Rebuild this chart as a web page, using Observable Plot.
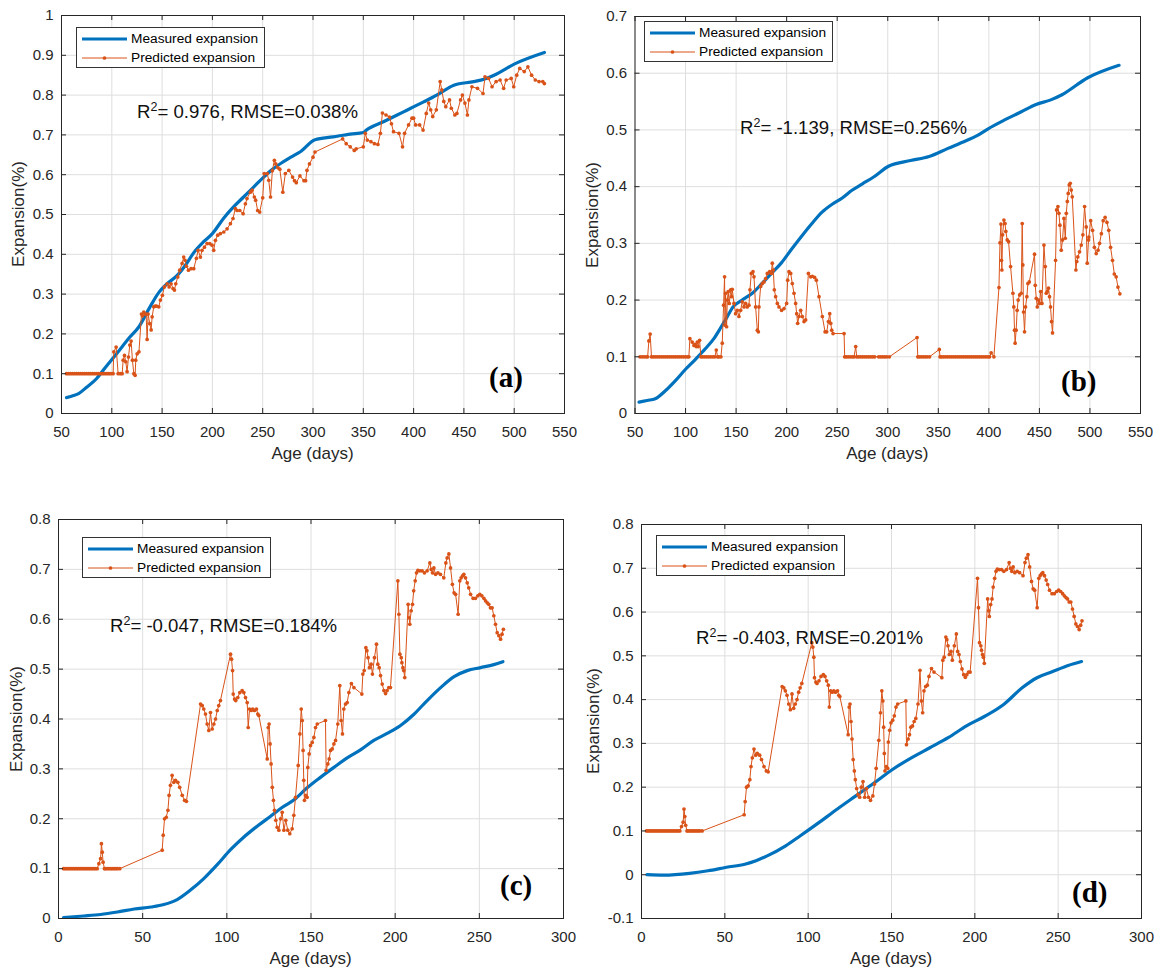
<!DOCTYPE html>
<html><head><meta charset="utf-8">
<script src="https://cdn.jsdelivr.net/npm/d3@7"></script>
<script src="https://cdn.jsdelivr.net/npm/@observablehq/plot@0.6"></script>
<style>
body{margin:0;background:#fff;}
#root{position:relative;width:1156px;height:969px;overflow:hidden;font-family:"Liberation Sans",Arial,Helvetica,sans-serif;color:#262626;}
.panel{position:absolute;}
.ov{position:absolute;white-space:nowrap;line-height:1;}
.legend{position:absolute;border:1px solid #333;background:#fff;box-sizing:border-box;font-size:13.7px;color:#000;}
.legend span{position:absolute;white-space:nowrap;line-height:18px;}
.ann{position:absolute;white-space:nowrap;font-size:18.6px;line-height:22px;color:#111;}
.ann .sup{position:relative;top:-7px;font-size:12.5px;}
.plab{position:absolute;font-family:"Liberation Serif","Times New Roman",serif;font-weight:bold;font-size:29px;line-height:32px;color:#000;}
</style></head><body><div id="root"></div>
<script>
// ---------------- data ----------------
const xTicksAB = [50,100,150,200,250,300,350,400,450,500,550];
const xTicksCD = [0,50,100,150,200,250,300];
const yTicksA = [0,0.1,0.2,0.3,0.4,0.5,0.6,0.7,0.8,0.9,1];
const yTicksB = [0,0.1,0.2,0.3,0.4,0.5,0.6,0.7];
const yTicksC = [0,0.1,0.2,0.3,0.4,0.5,0.6,0.7,0.8];
const yTicksD = [-0.1,0,0.1,0.2,0.3,0.4,0.5,0.6,0.7,0.8];

const seriesNames = ["Measured expansion","Predicted expansion"];
const xTitle = "Age (days)";
const yTitle = "Expansion(%)";
const panelTags = ["(a)","(b)","(c)","(d)"];
const stats = [["0.976","0.038"],["-1.139","0.256"],["-0.047","0.184"],["-0.403","0.201"]];

const measuredA = [[55,0.040],[62,0.045],[67,0.050],[75,0.066],[85,0.088],[94,0.117],[105,0.151],[118,0.192],[127,0.218],[138,0.268],[147,0.305],[155,0.326],[165,0.347],[173,0.372],[182,0.406],[191,0.431],[200,0.452],[211,0.49],[221,0.519],[231,0.544],[241,0.569],[251,0.594],[260,0.614],[269,0.63],[278,0.644],[287,0.657],[302,0.688],[320,0.695],[337,0.702],[350,0.706],[353,0.712],[370,0.733],[390,0.758],[410,0.783],[423,0.8],[440,0.825],[460,0.834],[470,0.84],[480,0.85],[501,0.879],[530,0.907]];

const predictedA = [[55,0.1],[57,0.1],[59,0.1],[61,0.1],[63,0.1],[65,0.1],[67,0.1],[69,0.1],[71,0.1],[73,0.1],[75,0.1],[77,0.1],[79,0.1],[81,0.1],[83,0.1],[85,0.1],[87,0.1],[89,0.1],[91,0.1],[93,0.1],[95,0.1],[97,0.1],[99,0.1],[101.3,0.1],
[102,0.155],[104.3,0.167],[106.3,0.1],[108.6,0.1],[110.3,0.1],[111.3,0.134],[112.6,0.146],[113.9,0.13],[115.2,0.105],[116.6,0.142],[117.9,0.172],[119.2,0.182],[120.5,0.134],[121.9,0.1],[123.2,0.096],[123.8,0.134],[125.2,0.15],[127,0.155],[129.5,0.25],[130.5,0.245],[131.8,0.255],[133,0.25],[134.1,0.25],[135.1,0.186],[136.1,0.25],[137.7,0.226],[139.1,0.21],[140.1,0.243],[141.7,0.268],[143,0.27],[144.4,0.27],[146.7,0.268],[148.3,0.285],[150.3,0.297],[152.3,0.318],[155,0.326],[157,0.318],[158.9,0.326],[160.9,0.314],[162.3,0.31],[163.6,0.326],[165.6,0.343],[167.5,0.36],[169.9,0.377],[171.5,0.393],[172.8,0.385],[174.2,0.37],[176.2,0.36],[178.8,0.364],[181.5,0.364],[184.1,0.39],[185.8,0.41],[188.1,0.393],[189.7,0.41],[192.1,0.418],[194.7,0.427],[197.4,0.427],[199.7,0.423],[201.3,0.41],[203,0.435],[205.3,0.448],[207.9,0.452],[211.3,0.456],[214.6,0.464],[217.9,0.477],[220.5,0.49],[222.8,0.515],[224.5,0.51],[227.2,0.51],[230.5,0.502],[232.8,0.527],[234.4,0.54],[237.7,0.556],[239.5,0.561],[241.7,0.544],[243,0.536],[245,0.51],[247,0.506],[250,0.542],[251.5,0.603],[254.5,0.603],[256,0.586],[257.8,0.544],[259.6,0.61],[261.6,0.636],[263,0.627],[265,0.618],[267,0.614],[270,0.556],[272.5,0.603],[276,0.611],[279.7,0.594],[281.6,0.585],[283.4,0.58],[287,0.597],[291,0.585],[292.7,0.585],[294,0.611],[296.5,0.627],[300,0.644],[302,0.657],
[329.5,0.69],[333,0.678],[337,0.67],[341,0.661],[343,0.665],[350,0.67],[352,0.704],[354,0.687],[357.6,0.683],[361,0.678],[364.5,0.676],[367,0.704],[369,0.755],[372.6,0.75],[376,0.745],[378,0.728],[380,0.708],[385.5,0.704],[389,0.67],[391,0.704],[395,0.725],[398.4,0.742],[400,0.742],[402,0.725],[406,0.725],[409.4,0.712],[412.6,0.754],[415,0.78],[417,0.763],[419,0.746],[422.6,0.763],[426.4,0.834],[428,0.813],[430,0.784],[432,0.771],[435.7,0.788],[437.5,0.767],[441,0.75],[443,0.754],[446.7,0.788],[448.5,0.8],[451,0.78],[453.5,0.75],[455,0.788],[458,0.821],[463.5,0.817],[469,0.804],[471,0.846],[474.5,0.842],[478,0.821],[482,0.834],[486,0.838],[489.5,0.817],[492,0.838],[497,0.842],[499.5,0.821],[502.5,0.85],[505.5,0.867],[510,0.859],[513.6,0.871],[517.3,0.85],[521,0.838],[524.7,0.834],[528.4,0.834],[530,0.829]];

const measuredB = [[54,0.02],[62,0.023],[70,0.026],[80,0.04],[90,0.058],[100,0.078],[110,0.096],[120,0.115],[128,0.132],[135,0.152],[141,0.17],[147,0.188],[156,0.2],[166,0.212],[175,0.228],[185,0.247],[195,0.266],[205,0.29],[215,0.313],[225,0.335],[235,0.355],[245,0.369],[255,0.38],[265,0.394],[275,0.405],[286,0.417],[300.7,0.436],[322.6,0.446],[340.9,0.453],[359,0.467],[377.4,0.481],[388.3,0.49],[399.3,0.502],[413.9,0.516],[432.1,0.532],[446.7,0.545],[461.3,0.553],[472.3,0.562],[497.8,0.592],[528.8,0.614]];

const predictedB = [[55,0.1],[57,0.1],[59,0.1],[61,0.1],[62.5,0.1],[63.7,0.128],[65,0.14],[66.3,0.1],[68,0.1],[70,0.1],[72,0.1],[74,0.1],[76,0.1],[78,0.1],[80,0.1],[82,0.1],[84,0.1],[86,0.1],[88,0.1],[90,0.1],[92,0.1],[94,0.1],[96,0.1],[98,0.1],[100,0.1],[102,0.1],[103.3,0.1],
[104.3,0.132],[106.6,0.126],[108.3,0.12],[109.3,0.122],[110.6,0.118],[111.6,0.126],[112.5,0.118],[113.9,0.129],[115.2,0.1],[117,0.1],[119,0.1],[121,0.1],[123,0.1],[125,0.1],[127,0.1],[129,0.1],[130.4,0.112],[131.7,0.1],[133,0.1],[135,0.1],
[136.3,0.124],[137.6,0.191],[138.6,0.241],[139,0.156],[139.6,0.212],[140.6,0.153],[141.3,0.2],[142.2,0.215],[143.2,0.194],[144.6,0.218],[145.5,0.206],[146.2,0.219],[147.9,0.194],[149.5,0.176],[151.2,0.182],[152.8,0.171],[154.5,0.182],[156.1,0.197],[157.8,0.188],[159.4,0.194],[161,0.188],[162.7,0.191],[163.7,0.218],[165,0.247],[166.7,0.25],[167.7,0.241],[169.3,0.188],[171,0.147],[172,0.144],[172.6,0.188],[174.3,0.224],[175.9,0.229],[177.6,0.232],[179.2,0.238],[180.9,0.247],[183.2,0.25],[184.8,0.247],[185.8,0.265],[186.8,0.253],[187.8,0.218],[189.1,0.206],[190.8,0.194],[192.4,0.188],[195,0.182],[197.4,0.185],[200,0.194],[201,0.235],[202.3,0.25],[204,0.247],[205.6,0.229],[207.3,0.212],[208.9,0.194],[209.9,0.176],[210.9,0.159],[212.2,0.171],[213.9,0.182],[215.5,0.171],[217.2,0.162],[218.8,0.165],[221.5,0.247],[223.8,0.241],[225.4,0.242],[227.7,0.24],[229.4,0.235],[232,0.206],[235.3,0.171],[238,0.144],[239.6,0.144],[241.3,0.162],[242.6,0.176],[243.6,0.159],[244.6,0.147],[245.9,0.141],[256.8,0.141],
[257.4,0.1],[259,0.1],[261,0.1],[263,0.1],[265,0.1],[266.7,0.1],[268.3,0.118],[269.3,0.1],[271,0.1],[273,0.1],[275,0.1],[277,0.1],[279,0.1],[281,0.1],[283,0.1],[285,0.1],[287,0.1],[291,0.1],[293,0.1],[295,0.1],[297,0.1],[299,0.1],[301.6,0.1],[329,0.134],[329.7,0.1],[331,0.1],[333,0.1],[335,0.1],[337,0.1],[339,0.1],[341.3,0.1],[351,0.113],[351.7,0.1],[353,0.1],[355,0.1],[357,0.1],[359,0.1],[361,0.1],[363,0.1],[365,0.1],[367,0.1],[369,0.1],[371,0.1],[373,0.1],[375,0.1],[377,0.1],[379,0.1],[381,0.1],[383,0.1],[385,0.1],[387,0.1],[389,0.1],[391,0.1],[393,0.1],[395,0.1],[397,0.1],[399,0.1],[400.7,0.1],[402.3,0.107],[405,0.1],
[410,0.222],[411,0.301],[412,0.334],[412.5,0.27],[412.9,0.253],[413.6,0.315],[414.9,0.341],[416,0.335],[416.8,0.321],[418.2,0.306],[419.5,0.303],[421.5,0.259],[423.8,0.212],[424.7,0.188],[425.4,0.147],[426,0.124],[427,0.147],[428,0.182],[429,0.2],[430.4,0.209],[432,0.212],[433,0.335],[433.6,0.262],[434.3,0.179],[435.3,0.144],[436.3,0.188],[437.6,0.206],[438.6,0.229],[440,0.232],[445.2,0.281],[445.9,0.226],[446.9,0.203],[447.9,0.188],[449.2,0.2],[450.2,0.194],[451.2,0.215],[452.5,0.194],[454.5,0.297],[455.8,0.259],[456.8,0.212],[457.8,0.215],[459,0.221],[460,0.206],[461,0.188],[462,0.162],[463,0.142],[466,0.27],[467,0.359],[468.3,0.365],[469.3,0.353],[470.3,0.332],[471.6,0.288],[472.9,0.306],[474.3,0.344],[475.6,0.309],[476.6,0.353],[477.6,0.374],[478.5,0.388],[479.5,0.403],[480.5,0.406],[481.5,0.394],[482.5,0.382],[486.1,0.253],[487,0.268],[488,0.276],[489.7,0.285],[491.4,0.297],[493,0.315],[494.7,0.365],[496.3,0.329],[497.3,0.265],[498.6,0.306],[498.9,0.311],[500.7,0.34],[502.6,0.323],[504.4,0.293],[506.2,0.282],[508,0.288],[509.5,0.3],[511.3,0.317],[513.1,0.34],[515,0.346],[516.8,0.337],[518.6,0.323],[520.4,0.293],[522.3,0.27],[524.1,0.246],[525.9,0.241],[527.7,0.223],[529.6,0.211]];

const measuredC = [[3,0.002],[15,0.005],[25,0.008],[35,0.013],[45,0.019],[55,0.023],[62.6,0.028],[70.5,0.038],[78.4,0.057],[86.3,0.08],[94.3,0.108],[102.2,0.138],[110,0.163],[118,0.185],[126,0.205],[133,0.223],[140,0.238],[147.7,0.262],[155.6,0.283],[163.6,0.303],[171.5,0.322],[179.4,0.338],[187.3,0.357],[195.2,0.371],[203.2,0.387],[211,0.409],[219,0.437],[227,0.463],[235,0.485],[242.8,0.497],[250.7,0.503],[258.6,0.509],[264,0.515]];

const measuredD = [[3.3,0],[13.3,-0.001],[28.8,0.003],[39.9,0.009],[51,0.017],[62,0.024],[68.7,0.032],[75.4,0.043],[86.5,0.066],[95.3,0.089],[106.4,0.119],[117.5,0.15],[128.6,0.18],[139.7,0.21],[150.8,0.241],[161.9,0.267],[173,0.29],[184,0.313],[195,0.34],[206,0.362],[217.3,0.389],[228.4,0.427],[237.3,0.45],[246,0.463],[256,0.478],[264,0.487]];

// predicted series shared by panels (c) and (d)
const predictedCD = [[3,0.1],[4,0.1],[5,0.1],[6,0.1],[7,0.1],[8,0.1],[9,0.1],[10,0.1],[11,0.1],[12,0.1],[13,0.1],[14,0.1],[15,0.1],[16,0.1],[17,0.1],[18,0.1],[19,0.1],[20,0.1],[21,0.1],[22,0.1],[23,0.1],[24,0.11],[25,0.12],[25.5,0.15],[26,0.133],[26.5,0.113],[27.3,0.1],[28,0.1],[29,0.1],[30,0.1],[31,0.1],[32,0.1],[33,0.1],[34,0.1],[35,0.1],[36.4,0.1],
[61.6,0.137],[62.2,0.167],[63,0.2],[64,0.203],[65,0.217],[65.7,0.247],[66.5,0.267],[67.5,0.287],[68.5,0.273],[69.5,0.277],[70.9,0.273],[72,0.263],[73.5,0.247],[74.9,0.237],[76,0.235],[84.4,0.43],[85.4,0.427],[86.3,0.42],[87.3,0.41],[88.3,0.39],[89.3,0.377],[90.3,0.413],[91.3,0.38],[92.3,0.39],[93.3,0.4],[94.3,0.417],[95.2,0.427],[96.2,0.437],[102.2,0.53],[102.8,0.52],[103.4,0.497],[103.8,0.45],[104.6,0.44],[105.3,0.437],[106.5,0.443],[107.7,0.453],[109.1,0.457],[110.1,0.453],[111.1,0.443],[112.1,0.433],[112.7,0.383],[113.5,0.42],[114.5,0.417],[115.4,0.42],[116.4,0.417],[117.6,0.42],[118.4,0.41],[119,0.407],[124,0.32],[124.6,0.383],[125.1,0.39],[125.7,0.35],[126.3,0.31],[127,0.263],[127.7,0.237],[128.3,0.217],[129.1,0.197],[129.9,0.183],[130.9,0.177],[131.9,0.2],[132.9,0.213],[133.9,0.177],[135,0.197],[136.2,0.177],[137.4,0.17],[138.8,0.18],[139.8,0.207],[140.8,0.243],[142.4,0.307],[143.4,0.37],[144.2,0.42],[144.8,0.397],[145.3,0.337],[145.7,0.277],[146.1,0.237],[146.9,0.247],[147.7,0.243],[148.1,0.303],[148.9,0.33],[149.7,0.347],[150.7,0.353],[151.7,0.363],[152.7,0.383],[153.7,0.39],[158.6,0.397],[159,0.297],[160,0.31],[160.8,0.32],[161.6,0.337],[162.6,0.34],[163.6,0.35],[164.6,0.357],[165.9,0.39],[167.1,0.467],[167.9,0.397],[168.7,0.37],[169.5,0.42],[170.5,0.43],[171.5,0.433],[172.5,0.453],[174,0.471],[175.5,0.463],[180.2,0.45],[180.8,0.49],[181.6,0.497],[182.6,0.543],[183.2,0.537],[183.9,0.523],[184.7,0.503],[185.7,0.51],[186.5,0.49],[187.7,0.523],[188.9,0.55],[189.7,0.51],[190.5,0.503],[191.3,0.487],[192.3,0.47],[193.3,0.457],[194.3,0.451],[195.2,0.457],[196.2,0.463],[197.2,0.463],[201.6,0.677],[202.2,0.61],[202.8,0.53],[203.6,0.523],[204,0.513],[204.6,0.503],[205.1,0.497],[205.7,0.483],[207.7,0.63],[208.3,0.603],[208.7,0.59],[209.5,0.617],[210.3,0.63],[211,0.657],[211.9,0.677],[212.7,0.693],[213.5,0.698],[214.6,0.697],[216,0.697],[217.4,0.693],[219,0.697],[220.6,0.713],[221.4,0.7],[222.2,0.693],[223,0.703],[224,0.69],[225.4,0.693],[226.9,0.69],[228.9,0.683],[230.1,0.713],[230.9,0.723],[231.9,0.731],[232.9,0.703],[234,0.67],[235,0.653],[235.9,0.65],[237.4,0.61],[238.4,0.677],[239.2,0.683],[240,0.687],[240.8,0.69],[241.8,0.683],[242.8,0.673],[243.7,0.663],[244.8,0.65],[246.3,0.642],[247.7,0.642],[249.1,0.647],[250.3,0.65],[251.5,0.647],[252.7,0.642],[253.7,0.637],[254.7,0.633],[255.6,0.63],[256.6,0.623],[257.6,0.623],[258.6,0.607],[259.6,0.59],[260.6,0.573],[261.6,0.567],[262.6,0.56],[263.5,0.57],[264.3,0.58]];

// ---------------- styling / layout ----------------
const BLUE = "#0072BD", ORANGE = "#D95319", GRID = "#dedede", AXC = "#262626";
const fmt = d => String(+d.toFixed(2));

const panels = [
  {measured: measuredA, predicted: predictedA, xDomain:[50,550], yDomain:[0,1], xTicks:xTicksAB, yTicks:yTicksA,
   left:0, top:0, width:578, height:480, m:{t:15,r:14,b:67,l:61}, leg:[76,27], ann:[137,112], tag:[489,377], ylab:18},
  {measured: measuredB, predicted: predictedB, xDomain:[50,550], yDomain:[0,0.7], xTicks:xTicksAB, yTicks:yTicksB,
   left:578, top:0, width:578, height:480, m:{t:16,r:16,b:67,l:56.5}, leg:[644,21], ann:[740,128], tag:[1061,381], ylab:592},
  {measured: measuredC, predicted: predictedCD, xDomain:[0,300], yDomain:[0,0.8], xTicks:xTicksCD, yTicks:yTicksC,
   left:0, top:480, width:578, height:489, m:{t:39,r:15,b:51,l:58}, leg:[82,537], ann:[110,626], tag:[500,885], ylab:16},
  {measured: measuredD, predicted: predictedCD, xDomain:[0,300], yDomain:[-0.1,0.8], xTicks:xTicksCD, yTicks:yTicksD,
   left:578, top:480, width:578, height:489, m:{t:44,r:15,b:51,l:63}, leg:[656,535], ann:[696,638], tag:[1072,892], ylab:593}
];

const root = document.getElementById("root");
const X = d => d[0], Y = d => d[1];

panels.forEach((p, i) => {
  const iw = p.width - p.m.l - p.m.r;
  const ih = p.height - p.m.t - p.m.b;
  const chart = Plot.plot({
    width: p.width, height: p.height,
    marginTop: p.m.t, marginRight: p.m.r, marginBottom: p.m.b, marginLeft: p.m.l,
    x: {domain: p.xDomain}, y: {domain: p.yDomain},
    style: {fontFamily: '"Liberation Sans", Arial, Helvetica, sans-serif', fontSize: "15px", color: AXC, background: "transparent", overflow: "visible"},
    marks: [
      Plot.ruleX(p.xTicks, {x: d => d, stroke: GRID, strokeWidth: 1}),
      Plot.ruleY(p.yTicks, {y: d => d, stroke: GRID, strokeWidth: 1}),
      Plot.line(p.measured, {x: X, y: Y, stroke: BLUE, strokeWidth: 3.2, curve: "monotone-x"}),
      Plot.line(p.predicted, {x: X, y: Y, stroke: ORANGE, strokeWidth: 1}),
      Plot.dot(p.predicted, {x: X, y: Y, r: 1.85, fill: ORANGE, stroke: null}),
      Plot.frame({stroke: AXC, strokeWidth: 1}),
      Plot.tickX(p.xTicks, {x: d => d, insetTop: ih - 5, stroke: AXC}),
      Plot.tickX(p.xTicks, {x: d => d, insetBottom: ih - 5, stroke: AXC}),
      Plot.tickY(p.yTicks, {y: d => d, insetRight: iw - 5, stroke: AXC}),
      Plot.tickY(p.yTicks, {y: d => d, insetLeft: iw - 5, stroke: AXC}),
      Plot.axisX({ticks: p.xTicks, anchor: "bottom", tickSize: 0, tickPadding: 13, tickFormat: fmt, label: null}),
      Plot.axisY({ticks: p.yTicks, anchor: "left", tickSize: 0, tickPadding: 8, tickFormat: fmt, label: null})
    ]
  });
  const wrap = document.createElement("div");
  wrap.className = "panel";
  wrap.style.left = p.left + "px"; wrap.style.top = p.top + "px";
  wrap.appendChild(chart);
  root.appendChild(wrap);

  const fx0 = p.left + p.m.l, fx1 = p.left + p.width - p.m.r;
  const fy0 = p.top + p.m.t, fy1 = p.top + p.height - p.m.b;

  const xt = document.createElement("div");
  xt.className = "ov"; xt.textContent = xTitle;
  xt.style.fontSize = "17px";
  xt.style.left = ((fx0 + fx1) / 2) + "px"; xt.style.top = (fy1 + 40) + "px";
  xt.style.transform = "translate(-50%,-50%)";
  root.appendChild(xt);

  const yt = document.createElement("div");
  yt.className = "ov"; yt.textContent = yTitle;
  yt.style.fontSize = "17px";
  yt.style.left = p.ylab + "px"; yt.style.top = ((fy0 + fy1) / 2) + "px";
  yt.style.transform = "translate(-50%,-50%) rotate(-90deg)";
  root.appendChild(yt);

  const lg = document.createElement("div");
  lg.className = "legend";
  lg.style.left = p.leg[0] + "px"; lg.style.top = p.leg[1] + "px";
  lg.style.width = "189px"; lg.style.height = "41px";
  lg.innerHTML = `<svg width="189" height="41" style="position:absolute;left:-1px;top:-1px">
    <line x1="6" x2="51" y1="12" y2="12" stroke="${BLUE}" stroke-width="3.2"/>
    <line x1="6" x2="51" y1="31" y2="31" stroke="${ORANGE}" stroke-width="1"/>
    <circle cx="28.5" cy="31" r="1.85" fill="${ORANGE}"/></svg>
    <span style="left:54px;top:2px">${seriesNames[0]}</span>
    <span style="left:54px;top:21px">${seriesNames[1]}</span>`;
  root.appendChild(lg);

  const an = document.createElement("div");
  an.className = "ann";
  an.style.left = p.ann[0] + "px"; an.style.top = (p.ann[1] - 11) + "px";
  an.innerHTML = `R<span class="sup">2</span>= ${stats[i][0]}, RMSE=${stats[i][1]}%`;
  root.appendChild(an);

  const tg = document.createElement("div");
  tg.className = "plab"; tg.textContent = panelTags[i];
  tg.style.left = p.tag[0] + "px"; tg.style.top = (p.tag[1] - 16) + "px";
  root.appendChild(tg);
});
</script></body></html>
